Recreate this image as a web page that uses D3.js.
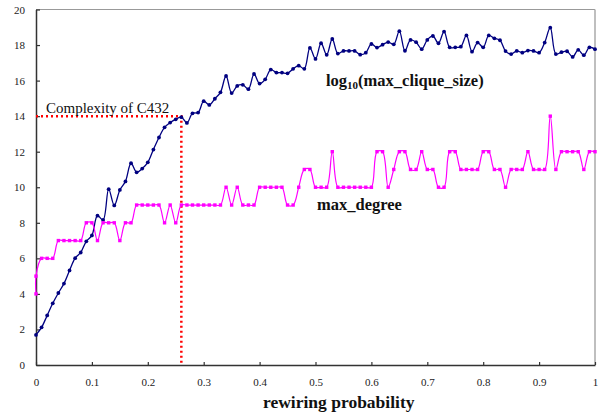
<!DOCTYPE html>
<html>
<head>
<meta charset="utf-8">
<script src="https://cdn.jsdelivr.net/npm/d3@7"></script>
<style>
  body { margin: 0; background: #fff; }
  svg { display: block; }
</style>
</head>
<body>
<div id="chart"></div>
<script>
// rewiring probability (x), 0 .. 1 in steps of 0.01
const rewiringProb = [0, .01, .02, .03, .04, .05, .06, .07, .08, .09,
  .10, .11, .12, .13, .14, .15, .16, .17, .18, .19,
  .20, .21, .22, .23, .24, .25, .26, .27, .28, .29,
  .30, .31, .32, .33, .34, .35, .36, .37, .38, .39,
  .40, .41, .42, .43, .44, .45, .46, .47, .48, .49,
  .50, .51, .52, .53, .54, .55, .56, .57, .58, .59,
  .60, .61, .62, .63, .64, .65, .66, .67, .68, .69,
  .70, .71, .72, .73, .74, .75, .76, .77, .78, .79,
  .80, .81, .82, .83, .84, .85, .86, .87, .88, .89,
  .90, .91, .92, .93, .94, .95, .96, .97, .98, .99, 1];

// log10(max_clique_size)
const logCliqueSize = [1.69, 2.12, 2.79, 3.47, 4.05, 4.58, 5.32, 6.01, 6.33, 6.96,
  7.29, 8.40, 8.16, 9.89, 8.98, 9.85, 10.33, 11.35, 10.84, 11.05,
  11.40, 12.12, 12.80, 13.37, 13.64, 13.82, 13.94, 13.62, 14.16, 14.20,
  14.84, 14.63, 14.98, 15.34, 16.26, 15.30, 15.70, 15.76, 15.52, 16.37,
  15.83, 16.07, 16.62, 16.45, 16.45, 16.41, 16.66, 16.84, 16.66, 17.84,
  17.22, 18.10, 17.45, 18.34, 17.52, 17.67, 17.67, 17.67, 17.46, 17.57,
  18.06, 17.86, 18.02, 18.17, 18.04, 18.78, 17.68, 18.29, 18.16, 17.77,
  18.29, 18.51, 18.10, 18.76, 17.87, 17.87, 17.91, 18.54, 17.63, 18.14,
  17.87, 18.54, 18.38, 18.27, 17.66, 17.49, 17.67, 17.57, 17.69, 17.67,
  17.57, 18.14, 18.98, 17.49, 17.60, 17.65, 17.33, 17.73, 17.43, 17.87, 17.77];

// max_degree (there is one extra point, 4, at probability 0 before the list)
const degreeAtZero = 4;
const maxDegree = [5, 6, 6, 6, 7, 7, 7, 7, 7, 8,
  8, 7, 8, 8, 8, 7, 8, 8, 9, 9,
  9, 9, 9, 8, 9, 8, 9, 9, 9, 9,
  9, 9, 9, 9, 10, 9, 10, 9, 9, 9,
  10, 10, 10, 10, 10, 9, 9, 10, 11, 11,
  10, 10, 10, 12, 10, 10, 10, 10, 10, 10,
  10, 12, 12, 10, 11, 12, 12, 11, 11, 12,
  11, 11, 10, 10, 12, 12, 11, 11, 11, 11,
  12, 12, 11, 11, 10, 11, 11, 11, 12, 11,
  11, 11, 14, 11, 12, 12, 12, 12, 11, 12, 12];

const xTicks = [0, 0.1, 0.2, 0.3, 0.4, 0.5, 0.6, 0.7, 0.8, 0.9, 1];
const yTicks = [0, 2, 4, 6, 8, 10, 12, 14, 16, 18, 20];

// C432 marker
const complexityValue = 14;
const complexityProb = 0.26;

let wSvg = 608, hSvg = 412;
let padLeft = 36, padRight = 595, padTop = 9.5, padBottom = 365;
const serif = "Liberation Serif, Times New Roman, serif";

const svg = d3.select("#chart").append("svg")
  .attr("width", wSvg).attr("height", hSvg);

const xScale = d3.scaleLinear().domain([0, 1]).range([padLeft, padRight]);
const yScale = d3.scaleLinear().domain([0, 20]).range([padBottom, padTop]);

// plot frame (top & right in grey)
svg.append("line")
  .attr("x1", padLeft).attr("x2", padRight).attr("y1", padTop).attr("y2", padTop)
  .attr("stroke", "#999").attr("stroke-width", 1.2);
svg.append("line")
  .attr("x1", padRight).attr("x2", padRight).attr("y1", padTop).attr("y2", padBottom)
  .attr("stroke", "#aaa").attr("stroke-width", 1.5);

// axes
const xAxis = svg.append("g")
  .attr("transform", `translate(0, ${padBottom})`)
  .call(d3.axisBottom(xScale).tickValues(xTicks).tickSizeInner(-3).tickSizeOuter(0).tickPadding(13)
    .tickFormat(d => d === 0 || d === 1 ? d3.format("d")(d) : d3.format(".1f")(d)));
const yAxis = svg.append("g")
  .attr("transform", `translate(${padLeft}, 0)`)
  .call(d3.axisLeft(yScale).tickValues(yTicks).tickSizeInner(-4).tickSizeOuter(0).tickPadding(11));

[xAxis, yAxis].forEach(g => {
  g.attr("font-family", serif).attr("font-size", 11);
  g.selectAll(".tick text").attr("fill", "#222");
  g.select(".domain").attr("stroke", "#333").attr("stroke-width", 1.5);
  g.selectAll(".tick line").attr("stroke", "#333").attr("stroke-width", 1.2);
});

// red dotted guide lines for C432
svg.append("path")
  .attr("d", `M${xScale(0)},${yScale(complexityValue)}H${xScale(complexityProb)}V${yScale(0)}`)
  .attr("fill", "none")
  .attr("stroke", "#ff0000")
  .attr("stroke-width", 2.5)
  .attr("stroke-dasharray", "2,3");

const line = d3.line()
  .x(d => xScale(d.p))
  .y(d => yScale(d.v))
  .curve(d3.curveCatmullRom.alpha(0.5));

// log10(max_clique_size) series
let cliqueData = rewiringProb.map((p, i) => ({ p: p, v: logCliqueSize[i] }));
svg.append("path")
  .datum(cliqueData)
  .attr("d", line)
  .attr("fill", "none")
  .attr("stroke", "#000080")
  .attr("stroke-width", 1.3);
svg.selectAll("circle.clique")
  .data(cliqueData)
  .enter()
  .append("circle")
  .attr("class", "clique")
  .attr("cx", d => xScale(d.p))
  .attr("cy", d => yScale(d.v))
  .attr("r", 1.9)
  .attr("fill", "#000080");

// max_degree series
let degreeData = [{ p: 0, v: degreeAtZero }].concat(
  rewiringProb.map((p, i) => ({ p: p, v: maxDegree[i] })));
svg.append("path")
  .datum(degreeData)
  .attr("d", line)
  .attr("fill", "none")
  .attr("stroke", "#ff00ff")
  .attr("stroke-width", 1.2);
svg.selectAll("rect.degree")
  .data(degreeData)
  .enter()
  .append("rect")
  .attr("class", "degree")
  .attr("x", d => xScale(d.p) - 1.7)
  .attr("y", d => yScale(d.v) - 1.7)
  .attr("width", 3.4)
  .attr("height", 3.4)
  .attr("fill", "#ff00ff");

// labels
svg.append("text")
  .attr("x", 46).attr("y", 112.5)
  .attr("font-family", serif).attr("font-size", 15).attr("fill", "#111")
  .text("Complexity of C432");

let cliqueLabel = svg.append("text")
  .attr("x", 326).attr("y", 86)
  .attr("font-family", serif).attr("font-size", 16.5).attr("font-weight", "bold").attr("fill", "#111");
cliqueLabel.append("tspan").text("log");
cliqueLabel.append("tspan").attr("font-size", 11).attr("dy", 3).text("10");
cliqueLabel.append("tspan").attr("dy", -3).text("(max_clique_size)");

svg.append("text")
  .attr("x", 317).attr("y", 210)
  .attr("font-family", serif).attr("font-size", 16.5).attr("font-weight", "bold").attr("fill", "#111")
  .text("max_degree");

svg.append("text")
  .attr("x", 263).attr("y", 408)
  .attr("font-family", serif).attr("font-size", 17.5).attr("font-weight", "bold").attr("fill", "#111")
  .text("rewiring probability");
</script>
</body>
</html>
